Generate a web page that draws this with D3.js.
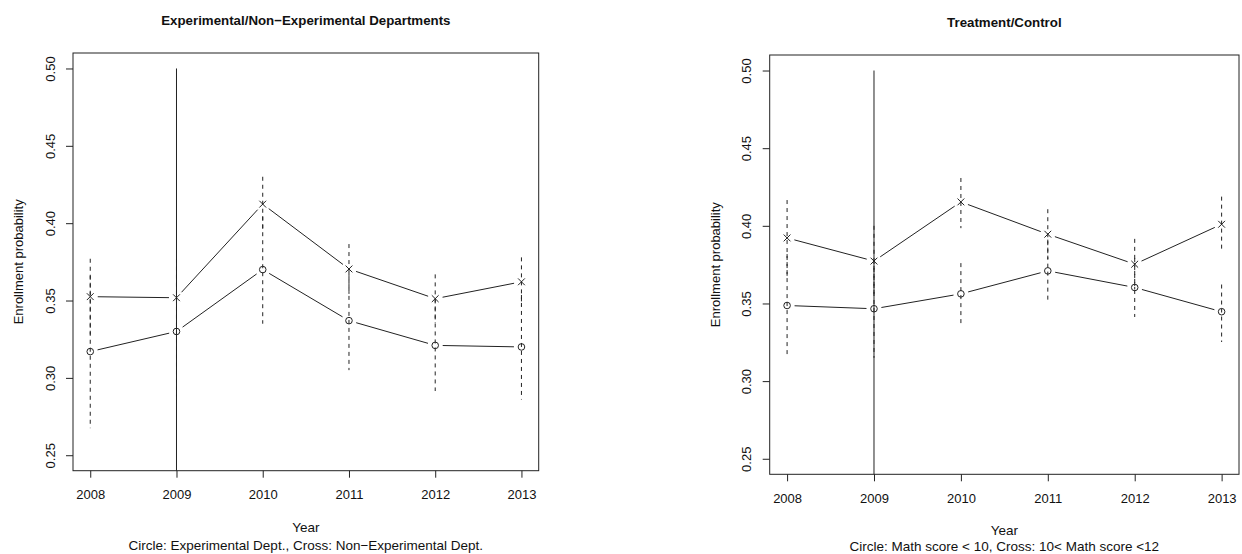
<!DOCTYPE html>
<html>
<head>
<meta charset="utf-8">
<script src="https://cdn.jsdelivr.net/npm/d3@7"></script>
<style>
  body { margin: 0; background: #fff; }
  svg { display: block; font-family: "Liberation Sans", Arial, sans-serif; }
</style>
</head>
<body>
<svg id="chart" width="1242" height="554"></svg>
<script>
// years on the x axis
var years = [2008, 2009, 2010, 2011, 2012, 2013];
var yTicks = [0.25, 0.30, 0.35, 0.40, 0.45, 0.50];
var refYear = 2009, refTop = 0.50;

// left panel: experimental (circle) / non-experimental (cross)
var expMean  = [0.317, 0.330, 0.370, 0.337, 0.321, 0.320];
var expLow   = [0.2675, 0.288, 0.335, 0.305, 0.2915, 0.286];
var expHigh  = [0.366, 0.372, 0.4045, 0.3685, 0.3507, 0.3536];
var nonMean  = [0.3525, 0.3518, 0.4123, 0.3704, 0.3512, 0.3621];
var nonLow   = [0.328, 0.327, 0.3946, 0.3543, 0.3355, 0.3463];
var nonHigh  = [0.377, 0.377, 0.430, 0.3865, 0.3669, 0.3779];

// right panel: math score < 10 (circle) / 10 < math score < 12 (cross)
var lowMean  = [0.3487, 0.3466, 0.3562, 0.3710, 0.3603, 0.3447];
var lowLow   = [0.3156, 0.315, 0.3363, 0.3509, 0.3413, 0.3252];
var lowHigh  = [0.3818, 0.378, 0.376, 0.3911, 0.3793, 0.3622];
var midMean  = [0.3922, 0.3773, 0.4154, 0.3946, 0.3753, 0.4010];
var midLow   = [0.3678, 0.355, 0.3985, 0.3785, 0.359, 0.3828];
var midHigh  = [0.4166, 0.400, 0.4308, 0.4107, 0.3916, 0.4188];

var panels = [
  {title: "Experimental/Non\u2212Experimental Departments",
   sub: "Circle: Experimental Dept., Cross: Non\u2212Experimental Dept.",
   x0: 73, x1: 538.7, y0: 53, y1: 470.7, titleY: 25, subDy: 79,
   circ: [expMean, expLow, expHigh], cross: [nonMean, nonLow, nonHigh]},
  {title: "Treatment/Control",
   sub: "Circle: Math score < 10, Cross: 10< Math score <12",
   x0: 769.7, x1: 1239, y0: 55, y1: 474.3, titleY: 27, subDy: 77,
   circ: [lowMean, lowLow, lowHigh], cross: [midMean, midLow, midHigh]}
];

var svg = d3.select("#chart");
var ink = "#222";

panels.forEach(function(p, pi) {
  var x = d3.scaleLinear().domain([2007.8, 2013.2]).range([p.x0, p.x1]);
  var y = d3.scaleLinear().domain([0.24, 0.51]).range([p.y1, p.y0]);
  var g = svg.append("g");

  var clipId = "clip" + pi;
  g.append("clipPath").attr("id", clipId).append("rect")
    .attr("x", p.x0).attr("y", p.y0).attr("width", p.x1 - p.x0).attr("height", p.y1 - p.y0);

  // axes
  var xa = g.append("g").attr("transform", "translate(0," + p.y1 + ")")
    .call(d3.axisBottom(x).tickValues(years).tickFormat(d3.format("d")).tickSize(7).tickPadding(12));
  var ya = g.append("g").attr("transform", "translate(" + p.x0 + ",0)")
    .call(d3.axisLeft(y).tickValues(yTicks).tickFormat(d3.format(".2f")).tickSize(7));
  [xa, ya].forEach(function(a) {
    a.select(".domain").remove();
    a.selectAll("line").attr("stroke", ink);
    a.selectAll("text").attr("fill", "#111").style("font-size", "13px");
  });
  ya.selectAll("text")
    .attr("x", null).attr("dy", null)
    .attr("text-anchor", "middle")
    .attr("transform", "translate(-23,0) rotate(-90) translate(0,4.5)");

  // box
  g.append("rect").attr("x", p.x0).attr("y", p.y0)
    .attr("width", p.x1 - p.x0).attr("height", p.y1 - p.y0)
    .attr("fill", "none").attr("stroke", ink).attr("stroke-width", 1);

  var plot = g.append("g").attr("clip-path", "url(#" + clipId + ")");

  // reference year line
  plot.append("line")
    .attr("x1", x(refYear)).attr("x2", x(refYear))
    .attr("y1", y(refTop)).attr("y2", y(0.24) + 1)
    .attr("stroke", ink).attr("stroke-width", 1);

  [p.circ, p.cross].forEach(function(s, si) {
    var m = s[0], lo = s[1], hi = s[2];
    // confidence intervals
    plot.selectAll(null).data(years).enter().append("line")
      .attr("x1", d => x(d)).attr("x2", d => x(d))
      .attr("y1", (d, i) => y(hi[i])).attr("y2", (d, i) => y(lo[i]))
      .attr("stroke", ink).attr("stroke-width", 1)
      .attr("stroke-dasharray", "4,4");

    // type "b" segments with gaps around points
    var gap = 7.5;
    var pts = years.map((d, i) => [x(d), y(m[i])]);
    for (var i = 0; i < pts.length - 1; i++) {
      var a = pts[i], b = pts[i + 1];
      var dx = b[0] - a[0], dy = b[1] - a[1];
      var len = Math.sqrt(dx * dx + dy * dy);
      var ux = dx / len, uy = dy / len;
      plot.append("line")
        .attr("x1", a[0] + ux * gap).attr("y1", a[1] + uy * gap)
        .attr("x2", b[0] - ux * gap).attr("y2", b[1] - uy * gap)
        .attr("stroke", ink).attr("stroke-width", 1);
    }

    // markers
    if (si == 0) {
      plot.selectAll(null).data(pts).enter().append("circle")
        .attr("cx", d => d[0]).attr("cy", d => d[1]).attr("r", 3.3)
        .attr("fill", "none").attr("stroke", ink).attr("stroke-width", 1);
    } else {
      var r = 3.4;
      plot.selectAll(null).data(pts).enter().append("path")
        .attr("d", d => "M" + (d[0] - r) + "," + (d[1] - r) + "L" + (d[0] + r) + "," + (d[1] + r) +
                        "M" + (d[0] - r) + "," + (d[1] + r) + "L" + (d[0] + r) + "," + (d[1] - r))
        .attr("fill", "none").attr("stroke", ink).attr("stroke-width", 1);
    }
  });

  // texts
  var cx = (p.x0 + p.x1) / 2;
  g.append("text").attr("x", cx).attr("y", p.titleY)
    .attr("text-anchor", "middle").style("font-size", "13.3px").style("font-weight", "bold")
    .attr("fill", "#111").text(p.title);
  g.append("text").attr("x", cx).attr("y", p.y1 + 61)
    .attr("text-anchor", "middle").style("font-size", "13.5px").attr("fill", "#111").text("Year");
  g.append("text").attr("x", cx).attr("y", p.y1 + p.subDy)
    .attr("text-anchor", "middle").style("font-size", "13.5px").attr("fill", "#111").text(p.sub);
  g.append("text")
    .attr("transform", "translate(" + (p.x0 - 50) + "," + ((p.y0 + p.y1) / 2) + ") rotate(-90)")
    .attr("text-anchor", "middle").style("font-size", "13px").attr("fill", "#111")
    .text("Enrollment probability");
});
</script>
</body>
</html>
